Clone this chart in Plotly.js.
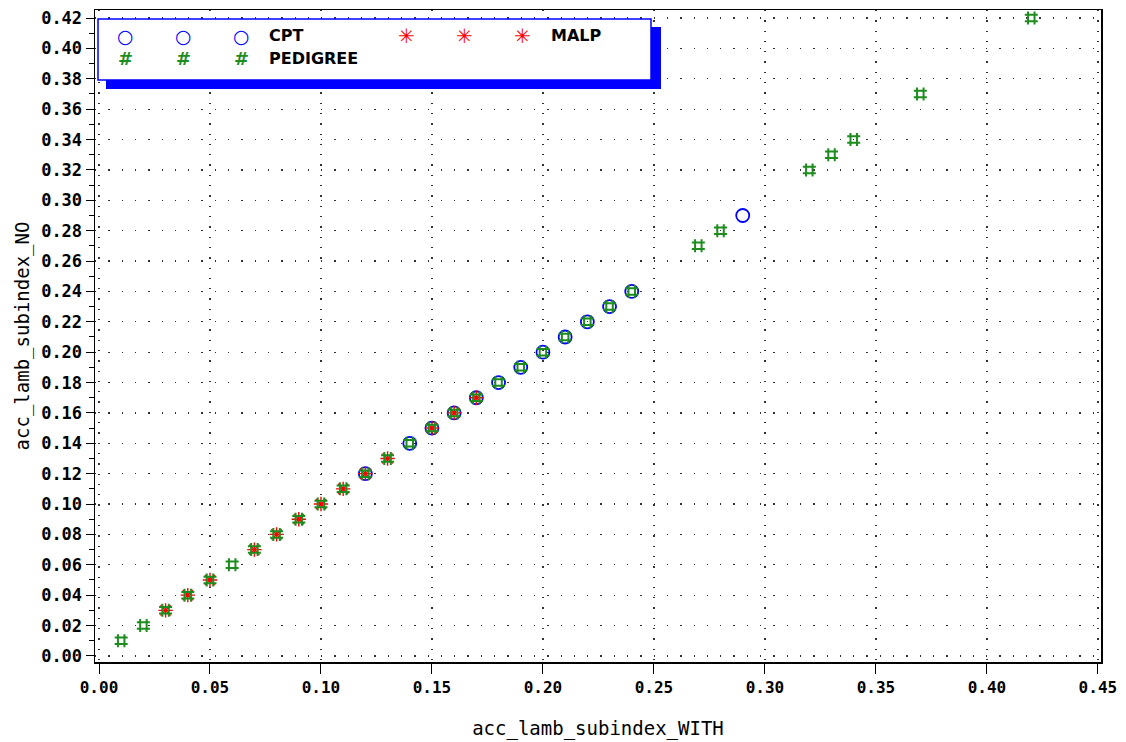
<!DOCTYPE html>
<html>
<head>
<meta charset="utf-8">
<script src="https://cdn.plot.ly/plotly-3.0.1.min.js"></script>
<style>html,body{margin:0;padding:0;background:#fff;}#chart{width:1126px;height:742px;}</style>
</head>
<body>
<div id="chart"></div>
<script>
// ---- data ----
const cptX = [0.12, 0.14, 0.15, 0.16, 0.17, 0.18, 0.19, 0.20, 0.21, 0.22, 0.23, 0.24, 0.29];
const cptY = [0.12, 0.14, 0.15, 0.16, 0.17, 0.18, 0.19, 0.20, 0.21, 0.22, 0.23, 0.24, 0.29];
const malpX = [0.03, 0.04, 0.05, 0.07, 0.08, 0.09, 0.10, 0.11, 0.12, 0.13, 0.15, 0.16, 0.17];
const malpY = [0.03, 0.04, 0.05, 0.07, 0.08, 0.09, 0.10, 0.11, 0.12, 0.13, 0.15, 0.16, 0.17];
const pedX = [0.01, 0.02, 0.03, 0.04, 0.05, 0.06, 0.07, 0.08, 0.09, 0.10, 0.11, 0.12, 0.13, 0.14,
              0.15, 0.16, 0.17, 0.18, 0.19, 0.20, 0.21, 0.22, 0.23, 0.24, 0.27, 0.28, 0.32, 0.33,
              0.34, 0.37, 0.42];
const pedY = [0.01, 0.02, 0.03, 0.04, 0.05, 0.06, 0.07, 0.08, 0.09, 0.10, 0.11, 0.12, 0.13, 0.14,
              0.15, 0.16, 0.17, 0.18, 0.19, 0.20, 0.21, 0.22, 0.23, 0.24, 0.27, 0.28, 0.32, 0.33,
              0.34, 0.37, 0.42];
const seriesNames = ['CPT', 'MALP', 'PEDIGREE'];
const xTickVals = [0, 0.05, 0.10, 0.15, 0.20, 0.25, 0.30, 0.35, 0.40, 0.45];
const yTickVals = [0, 0.02, 0.04, 0.06, 0.08, 0.10, 0.12, 0.14, 0.16, 0.18, 0.20, 0.22, 0.24,
                   0.26, 0.28, 0.30, 0.32, 0.34, 0.36, 0.38, 0.40, 0.42];
const xTitle = 'acc_lamb_subindex_WITH';
const yTitle = 'acc_lamb_subindex_NO';

// ---- styles ----
const BLUE = '#0000ff', RED = '#ff0000', GREEN = '#1e8c1e';

const traces = [
  {x: cptX, y: cptY, name: seriesNames[0], mode: 'markers', type: 'scatter',
   marker: {symbol: 'circle-open', size: 13, color: BLUE, line: {width: 1.8, color: BLUE}}},
  {x: malpX, y: malpY, name: seriesNames[1], mode: 'markers', type: 'scatter',
   marker: {symbol: 'asterisk-open', size: 12, color: RED, line: {width: 1.4, color: RED}}},
  {x: pedX, y: pedY, name: seriesNames[2], mode: 'markers', type: 'scatter',
   marker: {symbol: 'hash-open', size: 13, color: GREEN, line: {width: 2, color: GREEN}}}
];

// legend box built from layout shapes/annotations (SAS style, 3 symbols per entry)
const L = 95, R = 1101, T = 10, B = 662;
const px = v => (v - L) / (R - L);
const py = v => (B - v) / (B - T);

const shapes = [
  {type: 'rect', xref: 'paper', yref: 'paper', x0: px(106), x1: px(661), y0: py(89), y1: py(27),
   fillcolor: BLUE, line: {width: 0}, layer: 'above'},
  {type: 'rect', xref: 'paper', yref: 'paper', x0: px(98), x1: px(651), y0: py(80), y1: py(19),
   fillcolor: '#ffffff', line: {width: 1.5, color: BLUE}, layer: 'above'}
];

const symGlyph = ['○', '✳', '#'];
const symColor = [BLUE, RED, GREEN];
const symFont = [19, 20, 18];
const legendRows = [
  {series: 0, xs: [125, 183, 241], lx: 267, y: 36},
  {series: 1, xs: [406, 464, 522], lx: 549, y: 36},
  {series: 2, xs: [125, 183, 241], lx: 267, y: 58}
];
const annotations = [];
legendRows.forEach(r => {
  r.xs.forEach(x => annotations.push({
    xref: 'paper', yref: 'paper', x: px(x), y: py(r.y), text: symGlyph[r.series],
    showarrow: false, xanchor: 'center', yanchor: 'middle',
    font: {family: 'DejaVu Sans', size: symFont[r.series], color: symColor[r.series], weight: 'bold'}
  }));
  annotations.push({
    xref: 'paper', yref: 'paper', x: px(r.lx), y: py(r.y), text: seriesNames[r.series],
    showarrow: false, xanchor: 'left', yanchor: 'middle',
    font: {family: 'DejaVu Sans', size: 16, color: '#000', weight: 'bold'}
  });
});

const layout = {
  width: 1126, height: 742,
  margin: {l: L, r: 1126 - R, t: T, b: 742 - B, pad: 0},
  paper_bgcolor: '#fff', plot_bgcolor: '#fff',
  showlegend: false,
  xaxis: {
    range: [-0.0018, 0.4514], tickvals: xTickVals, tickformat: '.2f',
    ticks: 'outside', ticklen: 10, tickwidth: 1, tickcolor: '#000',
    showline: true, linecolor: '#000', linewidth: 1.5, mirror: true,
    showgrid: true, gridcolor: '#333', gridwidth: 1.3, griddash: '1.3px,9px',
    zeroline: false,
    tickfont: {family: 'DejaVu Sans Mono', size: 16, color: '#000', weight: 'bold'},
    title: {text: xTitle, font: {family: 'DejaVu Sans Mono', size: 19, color: '#000'}, standoff: 26}
  },
  yaxis: {
    range: [-0.0040, 0.4253], tickvals: yTickVals, tickformat: '.2f',
    ticks: 'outside', ticklen: 8, tickwidth: 1, tickcolor: '#000',
    minor: {dtick: 0.01, tick0: 0, ticks: 'outside', ticklen: 5, tickcolor: '#000', showgrid: false},
    showline: true, linecolor: '#000', linewidth: 1.5, mirror: true,
    showgrid: true, gridcolor: '#333', gridwidth: 1.3, griddash: '1.3px,12px',
    zeroline: false,
    tickfont: {family: 'DejaVu Sans Mono', size: 17, color: '#000', weight: 'bold'},
    title: {text: yTitle, font: {family: 'DejaVu Sans Mono', size: 19, color: '#000'}, standoff: 6}
  },
  shapes: shapes,
  annotations: annotations
};

Plotly.newPlot('chart', traces, layout, {displayModeBar: false, staticPlot: true});
</script>
</body>
</html>
